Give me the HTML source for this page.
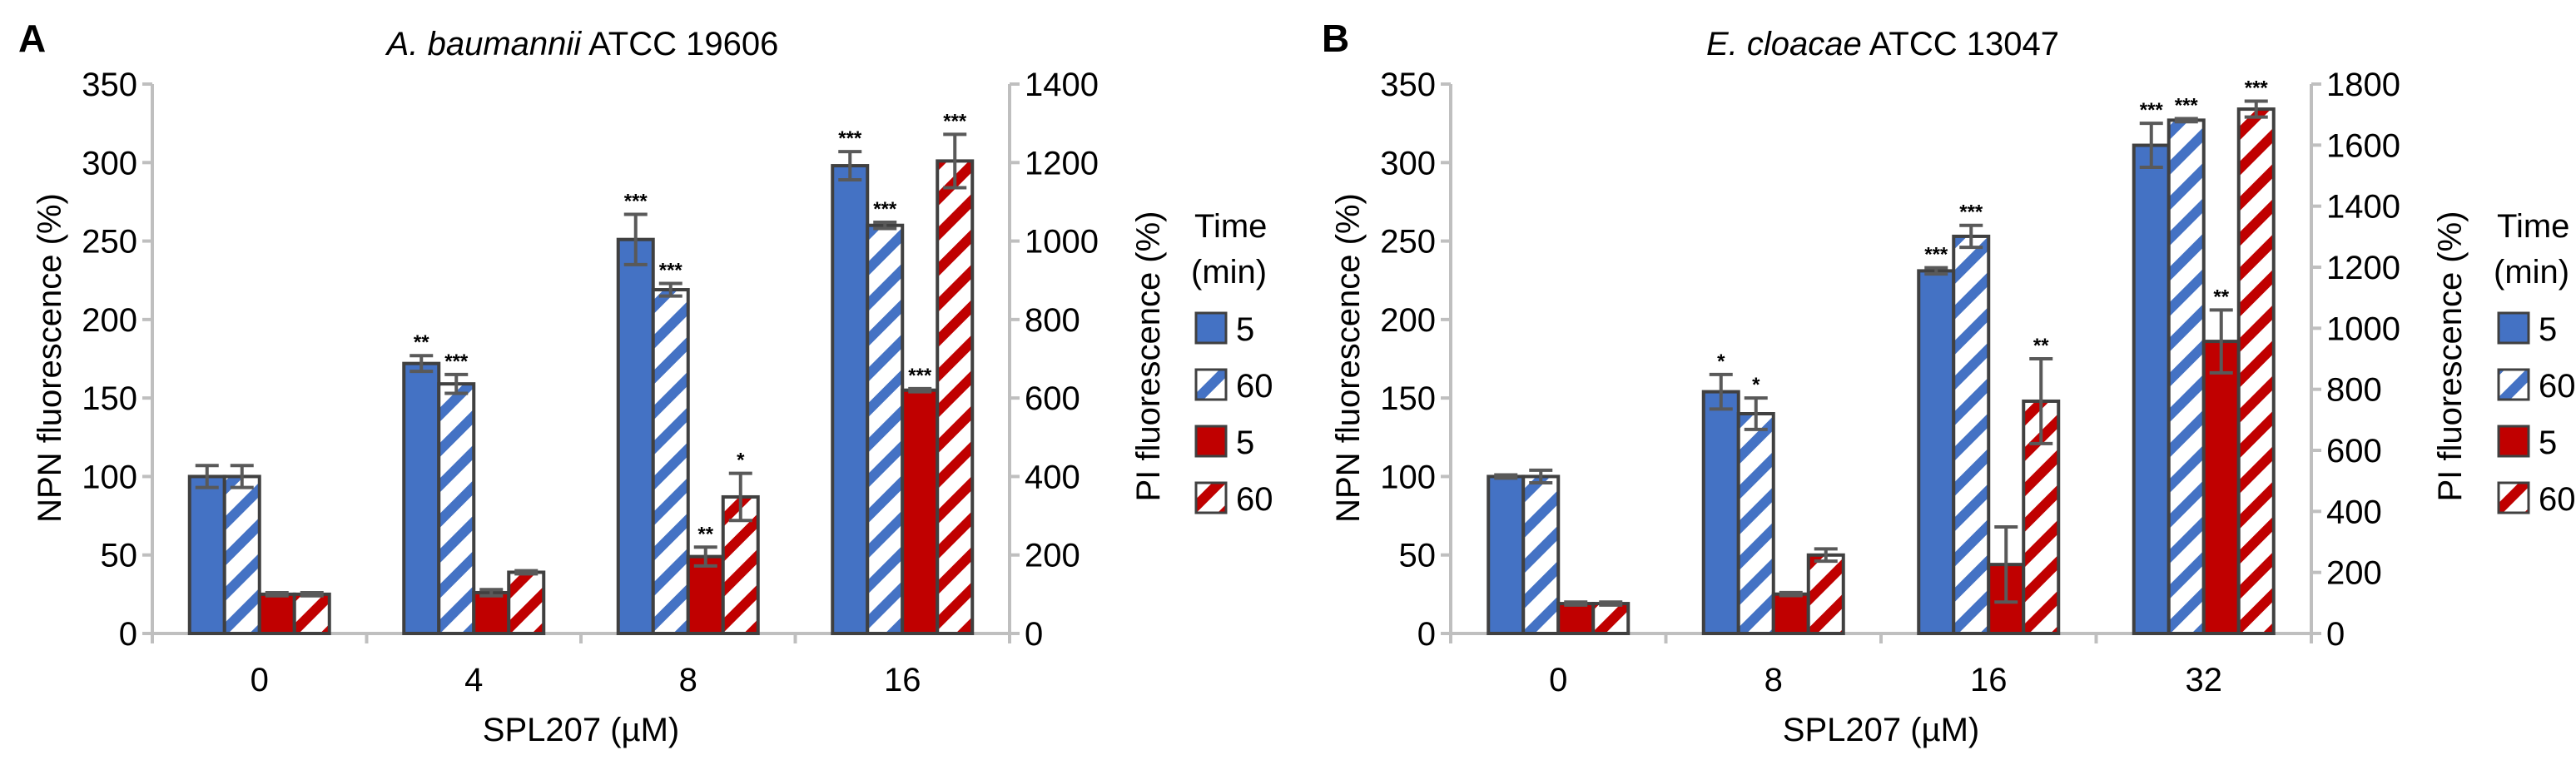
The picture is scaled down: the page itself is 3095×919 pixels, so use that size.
<!DOCTYPE html>
<html><head><meta charset="utf-8">
<style>
html,body{margin:0;padding:0;background:#fff;}
svg{display:block;font-family:"Liberation Sans",sans-serif;}
</style></head>
<body>
<svg id="chart" width="3095" height="919" viewBox="0 0 3095 919" xmlns="http://www.w3.org/2000/svg">
<defs>
<pattern id="hatchBlue" patternUnits="userSpaceOnUse" width="30" height="30" patternTransform="rotate(45)">
<rect width="30" height="30" fill="#fff"/><rect x="0" y="0" width="12" height="30" fill="#4472C4"/></pattern>
<pattern id="hatchRed" patternUnits="userSpaceOnUse" width="30" height="30" patternTransform="rotate(45)">
<rect width="30" height="30" fill="#fff"/><rect x="0" y="0" width="12" height="30" fill="#C00000"/></pattern>
</defs>
</svg>
<script>
// Panel A data
const catsA = ["0","4","8","16"];
const npn5A = [100,172,251,298];
const npn5ErrA = [7,5,16,9];
const npn60A = [100,159,219,260];
const npn60ErrA = [7,6,4,2];
const pi5A = [100,104,196,620];
const pi5ErrA = [4,8,24,4];
const pi60A = [100,156,348,1204];
const pi60ErrA = [4,4,60,68];
const starsA = [["","","",""],["**","***","",""],["***","***","**","*"],["***","***","***","***"]];
const leftTicksA = [0,50,100,150,200,250,300,350];
const rightTicksA = [0,200,400,600,800,1000,1200,1400];
// Panel B data
const catsB = ["0","8","16","32"];
const npn5B = [100,154,231,311];
const npn5ErrB = [1,11,2,14];
const npn60B = [100,140,253,327];
const npn60ErrB = [4,10,7,1];
const pi5B = [98,129,226,957];
const pi5ErrB = [5,5,123,103];
const pi60B = [98,257,761,1718];
const pi60ErrB = [5,20,139,26];
const starsB = [["","","",""],["*","*","",""],["***","***","","**"],["***","***","**","***"]];
const leftTicksB = [0,50,100,150,200,250,300,350];
const rightTicksB = [0,200,400,600,800,1000,1200,1400,1600,1800];

const svg = document.getElementById('chart');
const NS = 'http://www.w3.org/2000/svg';
function mk(tag, attrs, parent){
  const e = document.createElementNS(NS, tag);
  for (const k in attrs) e.setAttribute(k, attrs[k]);
  (parent||svg).appendChild(e);
  return e;
}
function txt(s, attrs, parent){ const e = mk('text', attrs, parent); e.textContent = s; return e; }

function panel(o){
  const g = mk('g', {});
  
  
  const y0 = 761, yTop = 101;
  const yL = v => y0 - (v / o.lmax) * (y0 - yTop);
  const yR = v => y0 - (v / o.rmax) * (y0 - yTop);
  const gw = (o.xr - o.xl) / o.cats.length;
  const bw = 42;

  const letter = txt(o.letter, {x:o.letterX, y:62, 'font-size':46, 'font-weight':'bold', fill:'#000'}, g);
  
  
  const title = mk('text', {x:o.titleX, y:66, 'font-size':40, 'text-anchor':'middle', fill:'#000'}, g);
  
  
  const ts = mk('tspan', {'font-style':'italic'}, title); ts.textContent = o.species;
  const ts2 = mk('tspan', {}, title); ts2.textContent = ' ' + o.strain;

  // left axis
  const la = mk('line', {x1:o.xl, y1:yTop, x2:o.xl, y2:y0, stroke:'#BFBFBF', 'stroke-width':4}, g);
  
  
  o.lt.forEach(v => {
    mk('line', {x1:o.xl-12, y1:yL(v), x2:o.xl, y2:yL(v), stroke:'#BFBFBF', 'stroke-width':4}, g);
    const t = txt(String(v), {x:o.xl-18, y:yL(v)+14, 'font-size':40, 'text-anchor':'end', fill:'#000'}, g);
    
    
  });
  // right axis
  const ra = mk('line', {x1:o.xr, y1:yTop, x2:o.xr, y2:y0, stroke:'#BFBFBF', 'stroke-width':4}, g);
  
  
  o.rt.forEach(v => {
    mk('line', {x1:o.xr, y1:yR(v), x2:o.xr+12, y2:yR(v), stroke:'#BFBFBF', 'stroke-width':4}, g);
    const t = txt(String(v), {x:o.xr+18, y:yR(v)+14, 'font-size':40, 'text-anchor':'start', fill:'#000'}, g);
    
    
  });
  // x axis
  const xa = mk('line', {x1:o.xl, y1:y0, x2:o.xr, y2:y0, stroke:'#BFBFBF', 'stroke-width':4}, g);
  
  
  for (let i=0;i<=o.cats.length;i++){
    mk('line', {x1:o.xl+i*gw, y1:y0, x2:o.xl+i*gw, y2:y0+12, stroke:'#BFBFBF', 'stroke-width':4}, g);
  }
  o.cats.forEach((c,i) => {
    const t = txt(c, {x:o.xl+(i+0.5)*gw, y:830, 'font-size':40, 'text-anchor':'middle', fill:'#000'}, g);
    
    
  });
  const xt = txt('SPL207 (µM)', {x:(o.xl+o.xr)/2, y:890, 'font-size':40, 'text-anchor':'middle', fill:'#000'}, g);
  
  
  const ylt = txt('NPN fluorescence (%)', {x:0, y:0, 'font-size':40, 'text-anchor':'middle', fill:'#000', transform:`translate(${o.xl-110},430) rotate(-90)`}, g);
  
  
  const yrt = txt('PI fluorescence (%)', {x:0, y:0, 'font-size':40, 'text-anchor':'middle', fill:'#000', transform:`translate(${o.xr+180},428) rotate(-90)`}, g);
  
  

  const series = [
    {vals:o.n5, errs:o.n5e, fill:'#4472C4', sc:yL, name:'npn-5min'},
    {vals:o.n60, errs:o.n60e, fill:'url(#hatchBlue)', sc:yL, name:'npn-60min'},
    {vals:o.p5, errs:o.p5e, fill:'#C00000', sc:yR, name:'pi-5min'},
    {vals:o.p60, errs:o.p60e, fill:'url(#hatchRed)', sc:yR, name:'pi-60min'}
  ];
  o.cats.forEach((c,i) => {
    const cx = o.xl + (i+0.5)*gw;
    series.forEach((s,j) => {
      const x = cx - 2*bw + j*bw;
      const yv = s.sc(s.vals[i]);
      const r = mk('rect', {x:x, y:yv, width:bw, height:y0-yv, fill:s.fill, stroke:'#404040', 'stroke-width':4}, g);
      
      
      const yh = s.sc(s.vals[i]+s.errs[i]), yl = s.sc(s.vals[i]-s.errs[i]);
      const bx = x + bw/2;
      const eb = mk('path', {d:`M${bx},${yh}V${yl}M${bx-14},${yh}H${bx+14}M${bx-14},${yl}H${bx+14}`, stroke:'#595959', 'stroke-width':4, fill:'none'}, g);
      
      
      const st = o.stars[i][j];
      if (st){
        const t = txt(st, {x:bx, y:yh-8, 'font-size':24, 'font-weight':'bold', 'text-anchor':'middle', fill:'#000'}, g);
        
        
      }
    });
  });
  // legend
  const lg = mk('g', {}, g);
  
  
  txt('Time', {x:o.lgx, y:285, 'font-size':40, fill:'#000'}, lg);
  txt('(min)', {x:o.lgx-4, y:340, 'font-size':40, fill:'#000'}, lg);
  const labels = ['5','60','5','60'];
  const fills = ['#4472C4','url(#hatchBlue)','#C00000','url(#hatchRed)'];
  [376,444,512,580].forEach((yy,k) => {
    const e = mk('g', {}, lg);
    
    
    mk('rect', {x:o.lgx+2, y:yy, width:36, height:36, fill:fills[k], stroke:'#404040', 'stroke-width':3}, e);
    txt(labels[k], {x:o.lgx+50, y:yy+33, 'font-size':40, fill:'#000'}, e);
  });
}

panel({id:'a', letter:'A', letterX:22, titleX:700, species:'A. baumannii', strain:'ATCC 19606',
  xl:183, xr:1213, lmax:350, rmax:1400, lt:leftTicksA, rt:rightTicksA, cats:catsA,
  n5:npn5A, n5e:npn5ErrA, n60:npn60A, n60e:npn60ErrA, p5:pi5A, p5e:pi5ErrA, p60:pi60A, p60e:pi60ErrA,
  stars:starsA, lgx:1435});
panel({id:'b', letter:'B', letterX:1588, titleX:2262, species:'E. cloacae', strain:'ATCC 13047',
  xl:1743, xr:2777, lmax:350, rmax:1800, lt:leftTicksB, rt:rightTicksB, cats:catsB,
  n5:npn5B, n5e:npn5ErrB, n60:npn60B, n60e:npn60ErrB, p5:pi5B, p5e:pi5ErrB, p60:pi60B, p60e:pi60ErrB,
  stars:starsB, lgx:3000});
</script>
</body></html>
